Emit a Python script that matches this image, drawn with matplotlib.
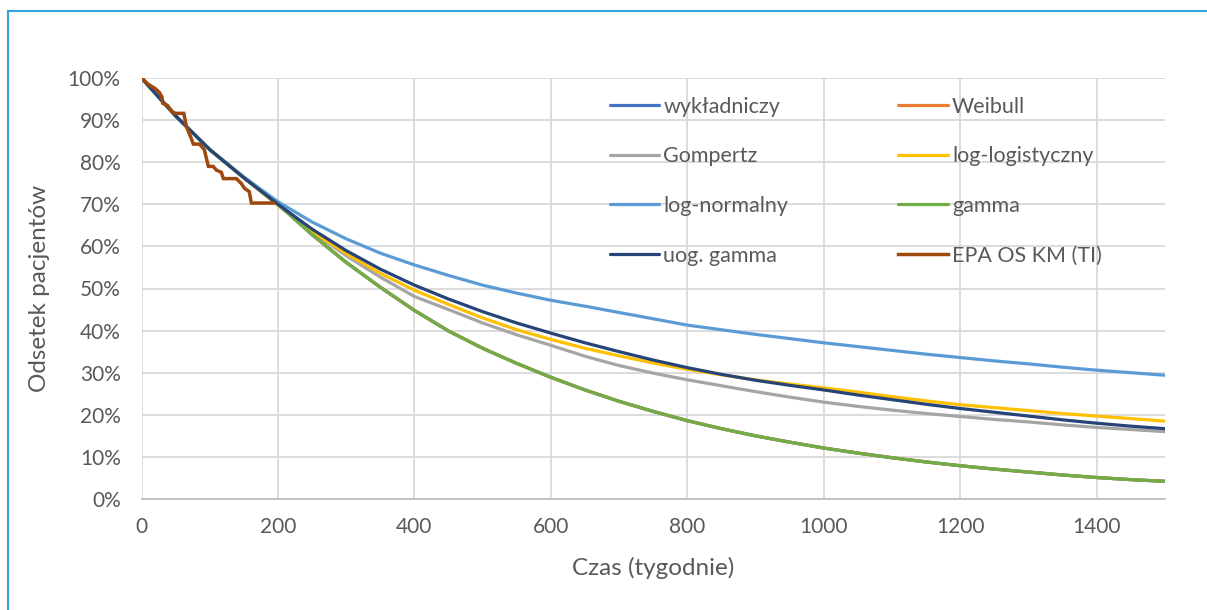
import matplotlib
matplotlib.use("Agg")
import matplotlib.pyplot as plt
from matplotlib.patches import Rectangle
from matplotlib.ticker import FixedLocator

plt.rcParams['font.family'] = ['Lato', 'DejaVu Sans']

# ---- data ----
t = [0, 50, 100, 150, 200, 250, 300, 350, 400, 450, 500, 550, 600, 650, 700, 750,
     800, 850, 900, 950, 1000, 1050, 1100, 1150, 1200, 1250, 1300, 1350, 1400, 1450, 1500]

gamma_vals = [100, 91, 83, 76.3, 70, 62.8, 56.2, 50.3, 44.8, 39.9, 35.8, 32.2, 28.9, 25.9,
              23.2, 20.8, 18.6, 16.7, 15.0, 13.5, 12.1, 10.9, 9.8, 8.8, 7.9, 7.1, 6.4,
              5.7, 5.1, 4.6, 4.2]
exp_vals = list(gamma_vals)
weib_vals = list(gamma_vals)
gomp_vals = [100, 91, 83, 76.3, 69.8, 63.5, 57.8, 52.7, 48.1, 45.0, 41.8, 39.0, 36.5, 33.9,
             31.7, 29.9, 28.3, 26.9, 25.5, 24.2, 23.0, 22.0, 21.1, 20.3, 19.6, 18.9, 18.3,
             17.6, 17.0, 16.5, 16.0]
loglog_vals = [100, 91, 83, 76.3, 69.8, 63.6, 58.3, 53.6, 49.6, 46.2, 43.0, 40.2, 37.9, 35.8,
               34.0, 32.3, 30.8, 29.5, 28.3, 27.3, 26.4, 25.4, 24.3, 23.3, 22.4, 21.7, 21.0,
               20.3, 19.7, 19.1, 18.5]
lognorm_vals = [100, 91, 83, 76.5, 70.6, 65.8, 61.8, 58.4, 55.6, 53.1, 50.8, 48.9, 47.2, 45.8,
                44.3, 42.8, 41.3, 40.2, 39.1, 38.1, 37.1, 36.2, 35.3, 34.4, 33.6, 32.8, 32.1,
                31.3, 30.6, 30.0, 29.4]
uog_vals = [100, 91, 83, 76.3, 70, 64.1, 59.0, 54.6, 50.8, 47.5, 44.5, 41.8, 39.4, 37.1,
            35.0, 33.0, 31.2, 29.6, 28.2, 27.0, 25.9, 24.7, 23.6, 22.5, 21.5, 20.6, 19.7,
            18.8, 18.0, 17.3, 16.7]

km_t = [0, 10, 20, 26, 30, 31, 38, 45, 50, 58, 62, 66, 72, 76, 85, 92, 98, 105, 110, 117,
        120, 139, 146, 151, 158, 161, 193]
km_s = [100, 98.5, 97.5, 96.6, 95.5, 94, 93.5, 92, 91.6, 91.6, 91.6, 88.4, 86, 84.3, 84.3,
        83, 79, 79, 78.1, 77.6, 76.1, 76.1, 75, 73.8, 73, 70.3, 70.3]

labels = ['wykładniczy', 'Weibull', 'Gompertz', 'log-logistyczny', 'log-normalny',
          'gamma', 'uog. gamma', 'EPA OS KM (TI)']
colors = ['#4472C4', '#ED7D31', '#A5A5A5', '#FFC000', '#5B9BD5', '#70AD47', '#264478', '#9E480E']

x_ticks = [0, 200, 400, 600, 800, 1000, 1200, 1400]
y_ticks = [0, 10, 20, 30, 40, 50, 60, 70, 80, 90, 100]
y_tick_labels = [f'{v}%' for v in y_ticks]

# ---- figure ----
fig = plt.figure(figsize=(12.07, 6.10), dpi=100)
W, H = 1207, 610
ax = fig.add_axes([141.5 / W, 1 - 499 / H, (1165 - 141.5) / W, (499 - 78) / H])

series = [exp_vals, weib_vals, gomp_vals, loglog_vals, lognorm_vals, gamma_vals, uog_vals]
handles = []
for vals, lab, col in zip(series, labels[:7], colors[:7]):
    h, = ax.plot(t, vals, color=col, lw=2.3, label=lab, solid_capstyle='round')
    handles.append(h)
h, = ax.plot(km_t, km_s, color=colors[7], lw=2.5, label=labels[7], solid_joinstyle='miter')
handles.append(h)

ax.set_xlim(0, 1500)
ax.set_ylim(0, 100)
ax.xaxis.set_major_locator(FixedLocator(x_ticks))
ax.set_yticks(y_ticks)
ax.set_yticklabels(y_tick_labels)
ax.grid(True, color='#D9D9D9', lw=1.3)
ax.set_axisbelow(True)
for s in ['top', 'right', 'left']:
    ax.spines[s].set_visible(False)
ax.spines['bottom'].set_color('#BFBFBF')
ax.spines['bottom'].set_linewidth(1.3)
ax.tick_params(length=0, labelsize=15, colors='#595959')
ax.tick_params(axis='x', pad=13)
ax.tick_params(axis='y', pad=15)

ax.set_xlabel('Czas (tygodnie)', fontsize=17.5, color='#595959', labelpad=14)
ax.set_ylabel('Odsetek pacjentów', fontsize=17.5, color='#595959', labelpad=13)

order = [0, 2, 4, 6, 1, 3, 5, 7]
leg = ax.legend([handles[i] for i in order], [labels[i] for i in order], ncol=2,
                frameon=False, fontsize=15.5, labelcolor='#595959',
                loc='upper left', bbox_to_anchor=((601 - 141.5) / (1165 - 141.5), 1 - 10 / 421),
                handlelength=2.3, handletextpad=0.2, columnspacing=5.1, labelspacing=1.38,
                borderaxespad=0)

fig.add_artist(Rectangle((8 / W, -0.1), 1.2, 1 - 11 / H + 0.1, transform=fig.transFigure,
                         fill=False, edgecolor='#2EA3DC', lw=1.5))

fig.savefig('out.png', dpi=100)
